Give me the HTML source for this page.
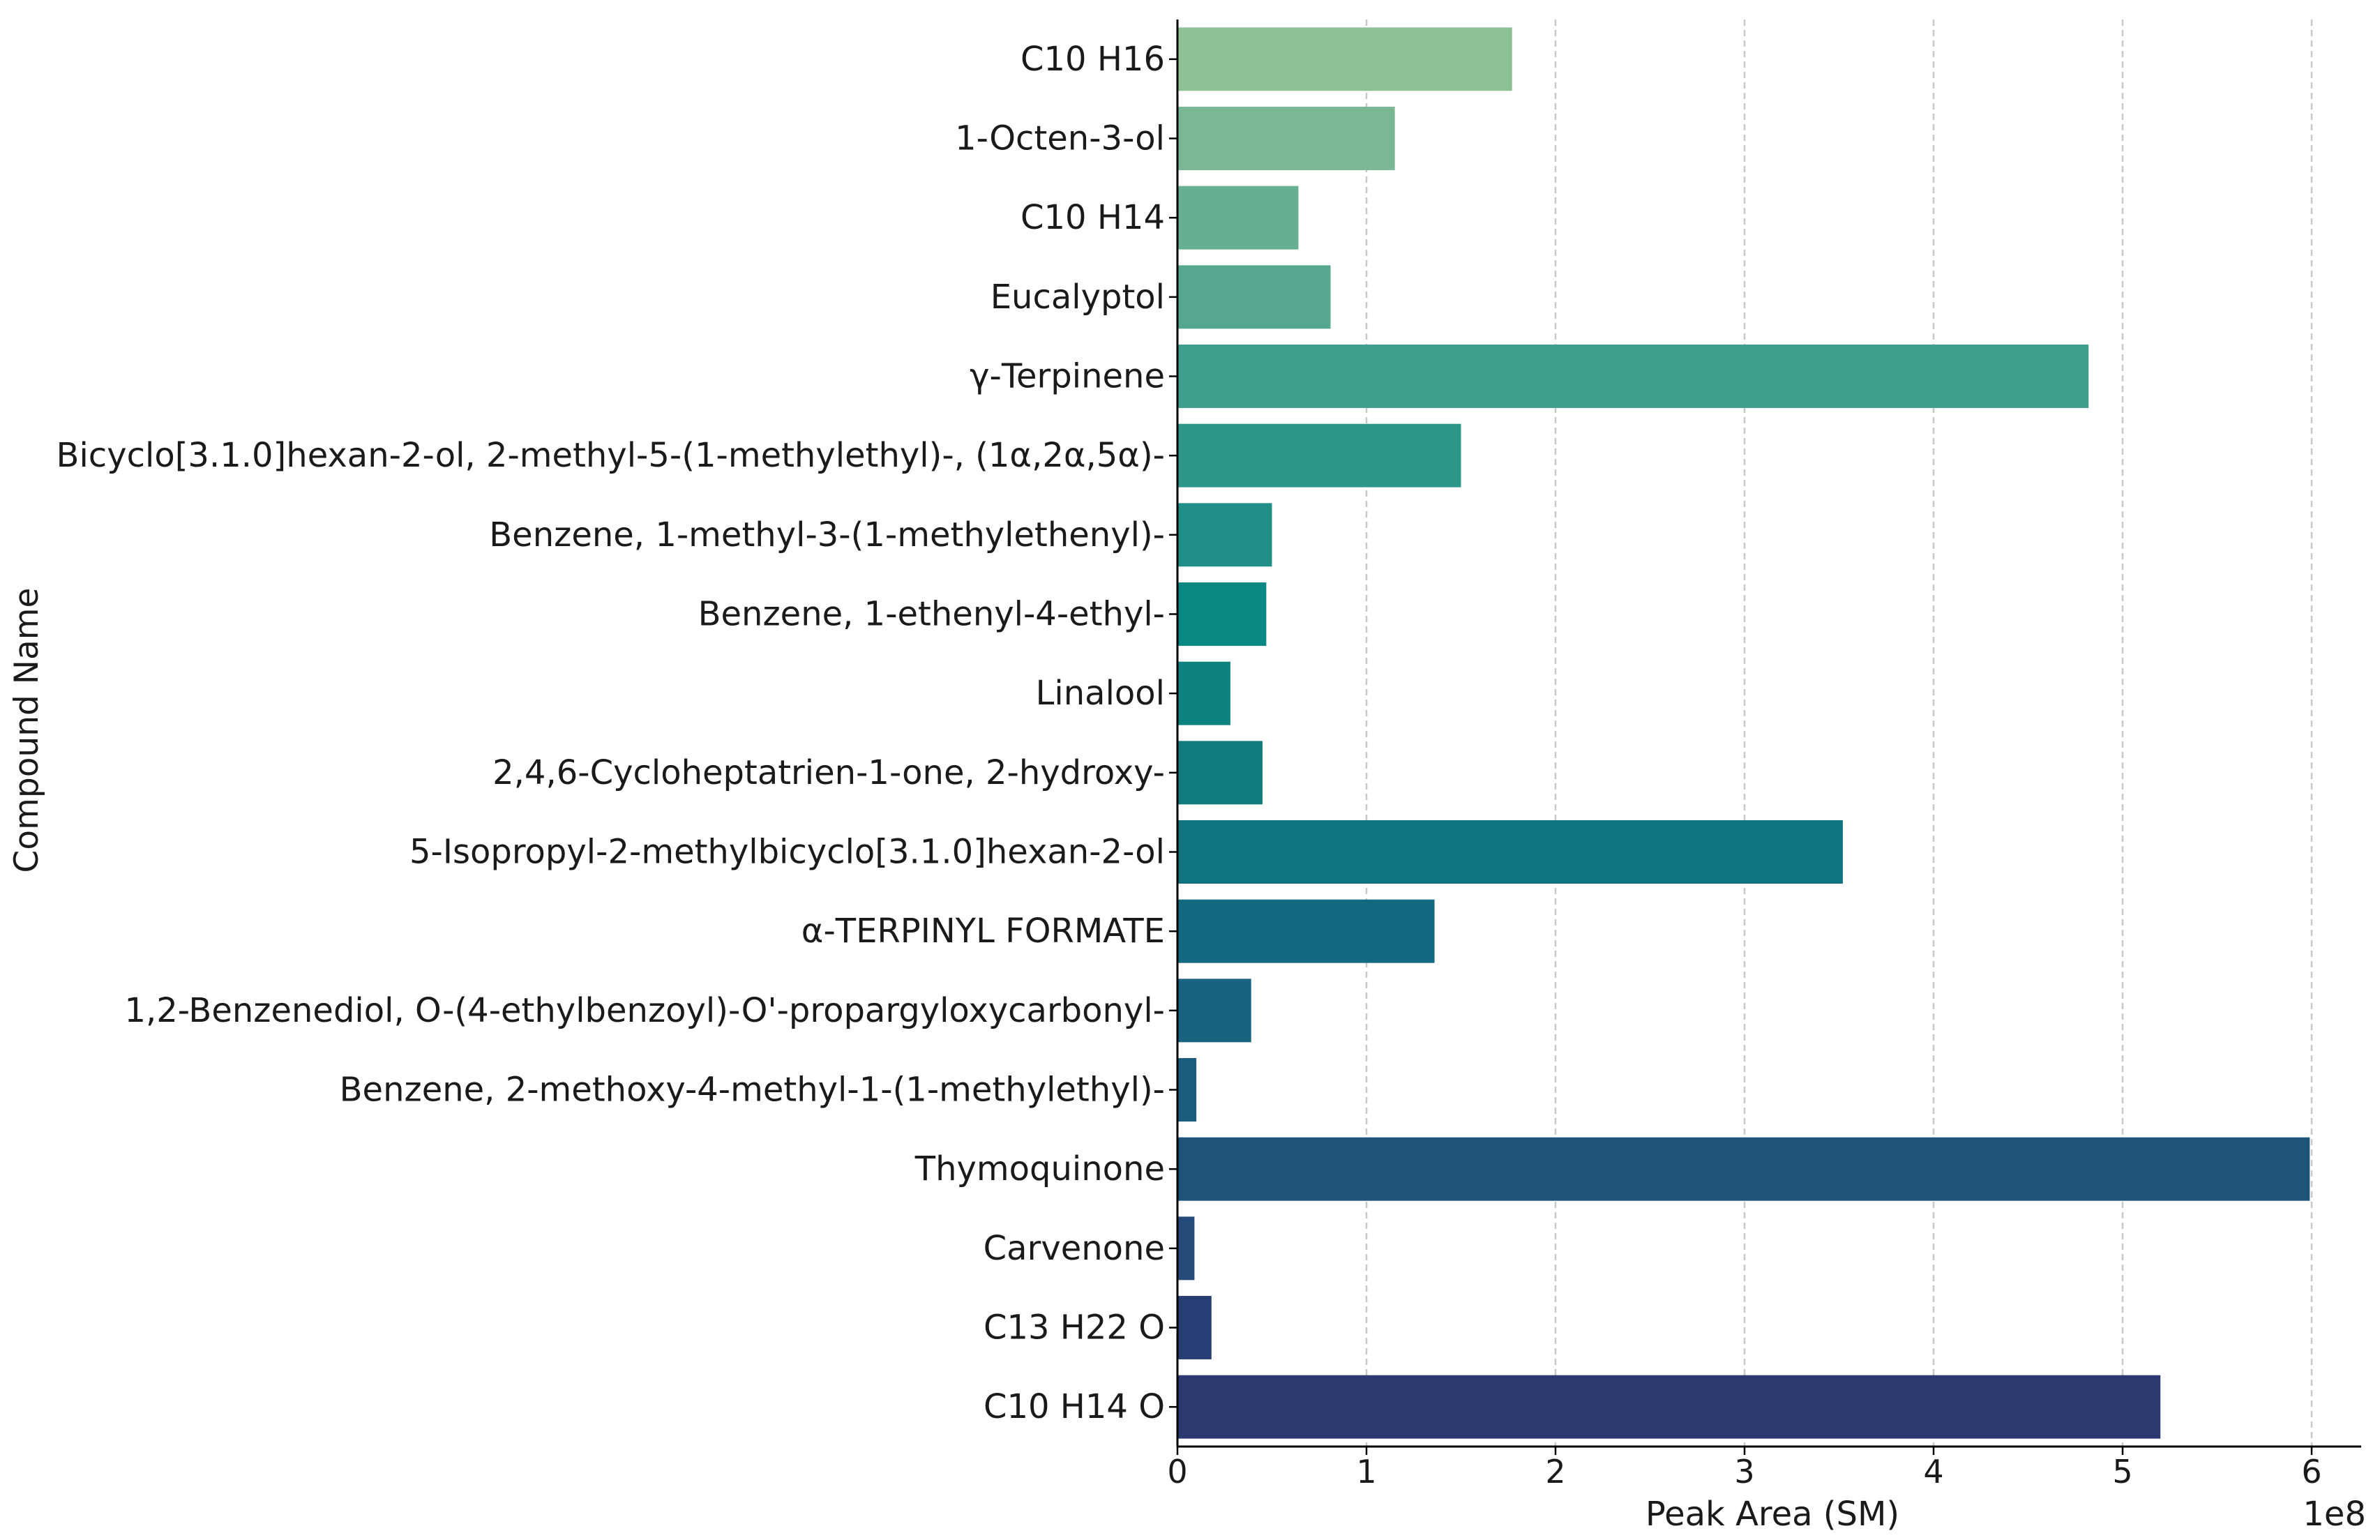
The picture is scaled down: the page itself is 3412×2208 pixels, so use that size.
<!DOCTYPE html>
<html><head><meta charset="utf-8"><style>
html,body{margin:0;padding:0;background:#fff;}
svg{display:block;font-family:"DejaVu Sans","Liberation Sans",sans-serif;}
</style></head><body>
<svg id="chart" width="3412" height="2208" viewBox="0 0 3412 2208" xmlns="http://www.w3.org/2000/svg">
<g id="grid"></g>
<g id="bars"></g>
<g id="axes"></g>
<text x="0" y="0" transform="translate(54,1047) rotate(-90)" text-anchor="middle" font-size="47" fill="#1a1a1a">Compound Name</text>
<text x="2541" y="2187" text-anchor="middle" font-size="48" fill="#1a1a1a">Peak Area (SM)</text>
<text x="3392" y="2187" text-anchor="end" font-size="48" fill="#1a1a1a">1e8</text>
</svg>
<script>
const categories = ["C10 H16","1-Octen-3-ol","C10 H14","Eucalyptol","γ-Terpinene","Bicyclo[3.1.0]hexan-2-ol, 2-methyl-5-(1-methylethyl)-, (1α,2α,5α)-","Benzene, 1-methyl-3-(1-methylethenyl)-","Benzene, 1-ethenyl-4-ethyl-","Linalool","2,4,6-Cycloheptatrien-1-one, 2-hydroxy-","5-Isopropyl-2-methylbicyclo[3.1.0]hexan-2-ol","α-TERPINYL FORMATE","1,2-Benzenediol, O-(4-ethylbenzoyl)-O'-propargyloxycarbonyl-","Benzene, 2-methoxy-4-methyl-1-(1-methylethyl)-","Thymoquinone","Carvenone","C13 H22 O","C10 H14 O"];
const values = [1.77,1.15,0.64,0.81,4.82,1.50,0.50,0.47,0.28,0.45,3.52,1.36,0.39,0.10,5.99,0.09,0.18,5.20];
const colors = ["#8cc095","#7ab895","#66b091","#55a78f","#3da08d","#2e978b","#1f8f88","#0a8984","#0d8280","#107a7e","#0f7380","#136a80","#186380","#1b5b7e","#1e537a","#234a79","#273f75","#2a3970"];
const xTicks = [0,1,2,3,4,5,6];
const NS="http://www.w3.org/2000/svg";
const X0=1688, XU=271, YTOP=28, YBOT=2074, XRIGHT=3385;
const step=(YBOT-YTOP)/categories.length;
function xs(v){return X0+v*XU;}
function ys(i){return YTOP+step*(i+0.5);}
function mk(t,a,p){const e=document.createElementNS(NS,t);for(const k in a)e.setAttribute(k,a[k]);p.appendChild(e);return e;}
const grid=document.getElementById('grid'),bars=document.getElementById('bars'),axes=document.getElementById('axes');
xTicks.forEach(t=>{
  if(t>0){const g=mk('line',{x1:xs(t),x2:xs(t),y1:YTOP,y2:YBOT,stroke:'#c8c8c8','stroke-width':2.5,'stroke-dasharray':'9,6'},grid);
  
  }
  const tk=mk('line',{x1:xs(t),x2:xs(t),y1:YBOT,y2:YBOT+12,stroke:'#000','stroke-width':2.5},axes);
  
  
  const tl=mk('text',{x:xs(t),y:2126,'text-anchor':'middle','font-size':46,fill:'#1a1a1a'},axes);
  tl.textContent=t;
  
  
});
categories.forEach((c,i)=>{
  const h=step*0.8;
  const r=mk('rect',{x:X0,y:ys(i)-h/2,width:xs(values[i])-X0,height:h,fill:colors[i]},bars);
  
  
  const tk=mk('line',{x1:X0-12,x2:X0,y1:ys(i),y2:ys(i),stroke:'#000','stroke-width':2.5},axes);
  
  
  const tl=mk('text',{x:X0-18,y:ys(i)+16,'text-anchor':'end','font-size':48,fill:'#1a1a1a'},axes);
  tl.textContent=c;
  
  
});
const ya=mk('line',{x1:X0,x2:X0,y1:YTOP,y2:YBOT,stroke:'#000','stroke-width':3},axes);


const xa=mk('line',{x1:X0,x2:XRIGHT,y1:YBOT,y2:YBOT,stroke:'#000','stroke-width':3},axes);


</script>
</body></html>
